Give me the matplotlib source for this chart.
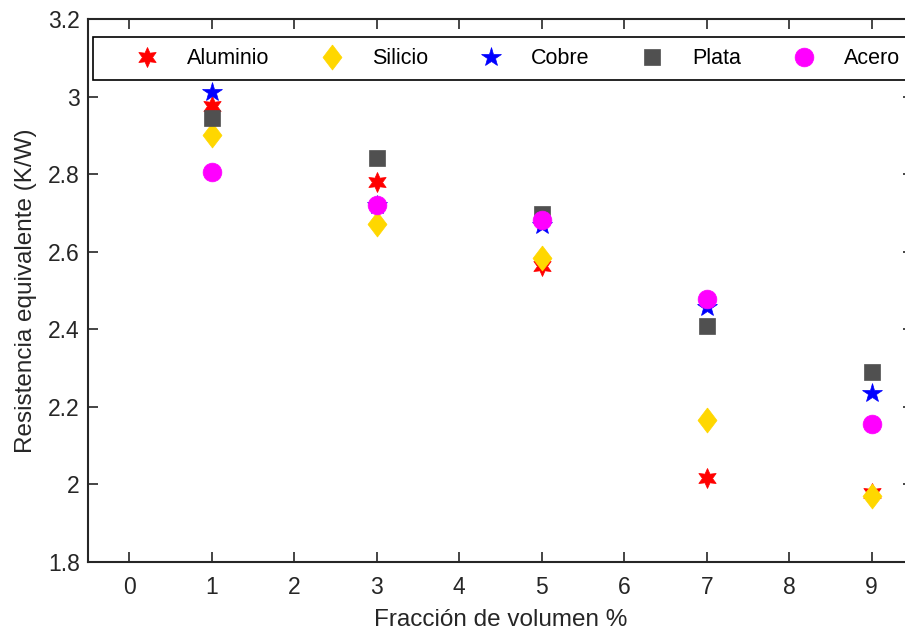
import numpy as np
import matplotlib.pyplot as plt
from matplotlib.ticker import FuncFormatter

plt.rcParams['font.family'] = ['Liberation Sans', 'DejaVu Sans']

# volume fraction (%) and equivalent resistance (K/W) per material
fraccion = [1, 3, 5, 7, 9]
aluminio = [2.976, 2.780, 2.563, 2.017, 1.978]
silicio = [2.901, 2.671, 2.584, 2.166, 1.970]
cobre = [3.012, 2.720, 2.668, 2.457, 2.236]
plata = [2.945, 2.842, 2.697, 2.408, 2.290]
acero = [2.806, 2.720, 2.682, 2.478, 2.156]

diamond = [(0, 1), (0.76, 0), (0, -1), (-0.76, 0), (0, 1)]

series = [
    ("Aluminio", aluminio, (6, 1, 0), "#ff0000", 14.5),
    ("Silicio", silicio, diamond, "#ffd700", 18),
    ("Cobre", cobre, "*", "#0000ff", 15),
    ("Plata", plata, "s", "#505050", 11),
    ("Acero", acero, "o", "#ff00ff", 13.5),
]

fig = plt.figure(figsize=(9.05, 6.31), dpi=100)
ax = fig.add_axes([88 / 905, 1 - 562 / 631, 825 / 905, 543 / 631])

for name, vals, mk, col, ms in series:
    ax.plot(fraccion, vals, linestyle="none", marker=mk, color=col,
            markersize=ms, markeredgewidth=0.5, label=name)

ax.set_xlim(-0.5, 9.5)
ax.set_ylim(1.8, 3.2)
ax.set_xticks(range(0, 10))
ax.set_yticks(np.arange(1.8, 3.21, 0.2))
ax.yaxis.set_major_formatter(FuncFormatter(lambda v, p: f"{v:g}"))

dark = "#262626"
for s in ax.spines.values():
    s.set_linewidth(1.5)
    s.set_color(dark)
ax.tick_params(direction="in", length=7, width=1.2, colors=dark,
               labelsize=16.5, top=True, right=True)
ax.tick_params(axis="x", pad=10)
ax.tick_params(axis="y", pad=6)

ax.set_xlabel("Fracción de volumen %", fontsize=17.5, color=dark, labelpad=7.5)
ax.set_ylabel("Resistencia equivalente (K/W)", fontsize=17.5, color=dark, labelpad=8)

leg = ax.legend(loc="upper left", bbox_to_anchor=(0.006, 0.8877, 0.9915, 0.0792),
                mode="expand", ncol=5, fancybox=False, edgecolor="black",
                borderaxespad=0, fontsize=15.5, handletextpad=-0.15,
                handlelength=4.0, borderpad=0.52, framealpha=1)
leg.get_frame().set_linewidth(1.2)

fig.savefig("out.png", dpi=100)
